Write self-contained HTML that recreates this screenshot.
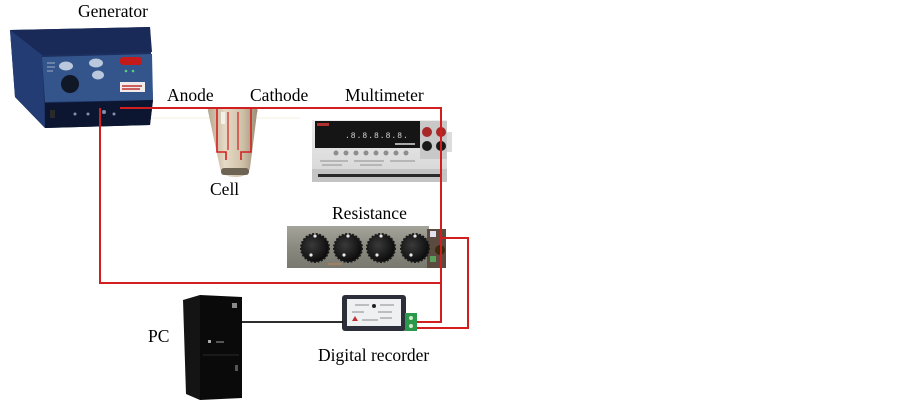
<!DOCTYPE html>
<html><head><meta charset="utf-8"><style>
html,body{margin:0;padding:0;background:#fff;}
svg{display:block;}
text{font-family:"Liberation Serif",serif;font-size:17.5px;fill:#000;}
</style></head><body>
<svg width="902" height="407" viewBox="0 0 902 407" xmlns="http://www.w3.org/2000/svg">
<defs>
<linearGradient id="cellg" x1="0" x2="1" y1="0" y2="0">
<stop offset="0" stop-color="#b8a890"/><stop offset="0.35" stop-color="#e6dac6"/><stop offset="0.7" stop-color="#cfc0a8"/><stop offset="1" stop-color="#9c8c78"/>
</linearGradient>
<linearGradient id="mmg" x1="0" x2="0" y1="0" y2="1">
<stop offset="0" stop-color="#ececec"/><stop offset="1" stop-color="#d4d4d4"/>
</linearGradient>
<linearGradient id="resg" x1="0" x2="0" y1="0" y2="1">
<stop offset="0" stop-color="#a4a49a"/><stop offset="0.5" stop-color="#8a8a80"/><stop offset="1" stop-color="#78786e"/>
</linearGradient>
<radialGradient id="knob" cx="0.4" cy="0.4" r="0.6">
<stop offset="0" stop-color="#3a3a3a"/><stop offset="1" stop-color="#0c0c0c"/>
</radialGradient>
</defs>
<rect width="902" height="407" fill="#fff"/>

<!-- Labels -->
<text x="78" y="17">Generator</text>
<text x="167" y="101">Anode</text>
<text x="250" y="101">Cathode</text>
<text x="345" y="101">Multimeter</text>
<text x="210" y="195">Cell</text>
<text x="332" y="219">Resistance</text>
<text x="148" y="342">PC</text>
<text x="318" y="361">Digital recorder</text>

<!-- faint line -->
<path d="M113,118 H300" stroke="#f6f0dc" stroke-width="1" fill="none"/>

<!-- Generator -->
<polygon points="10,30 150,27 153,100 150,125 45,128 15,97" fill="#1c2f5e"/>
<polygon points="10,30 150,27 152,52 42,55" fill="#1a2a58"/>
<polygon points="10,30 42,55 45,128 15,97" fill="#233c74"/>
<polygon points="42,57 152,54 153,100 45,102" fill="#34548c"/>
<polygon points="45,103 153,100 150,125 45,128" fill="#0d1631"/>
<ellipse cx="66" cy="66" rx="7" ry="4.5" fill="#b9c8dc"/>
<ellipse cx="96" cy="63" rx="7" ry="4.5" fill="#b9c8dc"/>
<ellipse cx="98" cy="75" rx="6" ry="4.5" fill="#b9c8dc"/>
<path d="M47,63 h8 M47,67 h8 M47,71 h6" stroke="#9fb0c8" stroke-width="1"/>
<circle cx="70" cy="84" r="9" fill="#101828"/>
<rect x="120" y="57" width="22" height="8" rx="3" fill="#c41a1a"/>
<circle cx="126" cy="71" r="1.3" fill="#5ad07a"/>
<circle cx="133" cy="71" r="1.3" fill="#5ad07a"/>
<rect x="120" y="82" width="25" height="10" fill="#f0eaea"/>
<path d="M122,86 h20 M122,89 h18" stroke="#c03030" stroke-width="1.5"/>
<rect x="50" y="110" width="5" height="8" fill="#2a2a2a"/>
<circle cx="75" cy="114" r="1.5" fill="#8090b0"/>
<circle cx="88" cy="114" r="1.5" fill="#8090b0"/>
<circle cx="104" cy="112" r="2" fill="#8090b0"/>
<circle cx="114" cy="114" r="1.5" fill="#8090b0"/>

<!-- Cell -->
<path d="M208,111 Q207,107 212,107 L254,107 Q259,108 257,113 L250,168 Q248,177 235,177 Q222,177 220,168 Z" fill="url(#cellg)"/>
<rect x="221" y="168" width="28" height="7" rx="3" fill="#6e6454"/>
<rect x="221" y="112" width="4" height="12" fill="#f4f0ea"/>
<path d="M217,108 V152 H226 V160 M251,108 V152 H241 V160" stroke="#d42020" stroke-width="1.6" fill="none"/>
<path d="M228,112 V150 M238,112 V150" stroke="#d42020" stroke-width="1.2" fill="none"/>

<!-- Multimeter -->
<rect x="312" y="120" width="135" height="62" fill="url(#mmg)"/>
<rect x="447" y="132" width="5" height="20" fill="#dcdcdc"/>
<rect x="315" y="121" width="105" height="27" fill="#151515"/>
<rect x="317" y="123" width="12" height="3" fill="#b03030"/>
<text x="345" y="138" style="font-family:'Liberation Mono',monospace;font-size:8px;fill:#d8d8d8;letter-spacing:1px">.8.8.8.8.8.</text>
<rect x="395" y="143" width="20" height="2" fill="#aaa"/>
<rect x="420" y="121" width="27" height="38" fill="#c8c8c8"/>
<circle cx="427" cy="132" r="5" fill="#a82828"/>
<circle cx="441" cy="132" r="5" fill="#a82828"/>
<circle cx="427" cy="146" r="5" fill="#1a1a1a"/>
<circle cx="441" cy="146" r="5" fill="#1a1a1a"/>
<g fill="#8e8e8e">
<circle cx="336" cy="153" r="2.5"/><circle cx="346" cy="153" r="2.5"/><circle cx="356" cy="153" r="2.5"/><circle cx="366" cy="153" r="2.5"/><circle cx="376" cy="153" r="2.5"/><circle cx="386" cy="153" r="2.5"/><circle cx="396" cy="153" r="2.5"/><circle cx="406" cy="153" r="2.5"/>
</g>
<path d="M320,161 h28 M354,161 h30 M390,161 h25 M322,165 h20 M360,165 h22" stroke="#a0a0a0" stroke-width="1.3"/>
<rect x="312" y="169" width="135" height="13" fill="#c4c4c4"/>
<rect x="318" y="174" width="122" height="3" fill="#2a2a2a"/>

<!-- Resistance box -->
<rect x="287" y="226" width="142" height="42" fill="url(#resg)"/>
<rect x="427" y="229" width="19" height="39" fill="#5a4a40"/>
<rect x="430" y="231" width="6" height="6" fill="#e0e0f0"/>
<circle cx="440" cy="250" r="5" fill="#3a2a10"/>
<rect x="430" y="256" width="6" height="6" fill="#5aa05a"/>
<g fill="url(#knob)" stroke="#1a1a1a" stroke-width="2" stroke-dasharray="2 1.5">
<circle cx="315" cy="248" r="14"/>
<circle cx="348" cy="248" r="14"/>
<circle cx="381" cy="248" r="14"/>
<circle cx="415" cy="248" r="14"/>
</g>
<g fill="#e8e8e8">
<circle cx="315" cy="236" r="1.6"/><circle cx="348" cy="236" r="1.6"/><circle cx="381" cy="236" r="1.6"/><circle cx="415" cy="236" r="1.6"/>
<circle cx="311" cy="255" r="1.6"/><circle cx="344" cy="255" r="1.6"/><circle cx="377" cy="255" r="1.6"/><circle cx="411" cy="255" r="1.6"/>
</g>
<rect x="328" y="263" width="14" height="2" fill="#a08060"/>

<!-- Red wires -->
<g stroke="#d21e1e" stroke-width="2" fill="none">
<path d="M120,108 H441 V322 H413"/>
<path d="M100,108 V283 H441"/>
<path d="M441,238 H468 V328 H413"/>
</g>

<!-- Digital recorder -->
<rect x="342" y="295" width="64" height="36" rx="3" fill="#2c2e3a"/>
<rect x="347" y="299" width="54" height="27" fill="#eef0f2"/>
<circle cx="374" cy="306" r="2" fill="#222"/>
<path d="M355,305 h14 M380,305 h14 M352,312 h12 M378,312 h14 M362,320 h16 M380,318 h12" stroke="#8a8a8a" stroke-width="1"/>
<path d="M352,321 l3,-5 l3,5 z" fill="#c03030"/>
<rect x="405" y="313" width="12" height="18" fill="#2a9a4a"/>
<circle cx="411" cy="318" r="2" fill="#d0e8d0"/>
<circle cx="411" cy="326" r="2" fill="#d0e8d0"/>

<!-- PC -->
<polygon points="183,300 200,295 200,400 186,394" fill="#141414"/>
<polygon points="200,295 242,297 242,398 200,400" fill="#0a0a0a"/>
<rect x="232" y="303" width="5" height="5" fill="#8a8a8a"/>
<rect x="208" y="340" width="3" height="3" fill="#aaa"/>
<rect x="216" y="341" width="8" height="2" fill="#555"/>
<path d="M203,355 h36" stroke="#2a2a2a" stroke-width="1"/>
<rect x="235" y="365" width="3" height="6" fill="#555"/>

<!-- Black wire -->
<path d="M242,322 H343" stroke="#111" stroke-width="1.8"/>
</svg>
</body></html>
